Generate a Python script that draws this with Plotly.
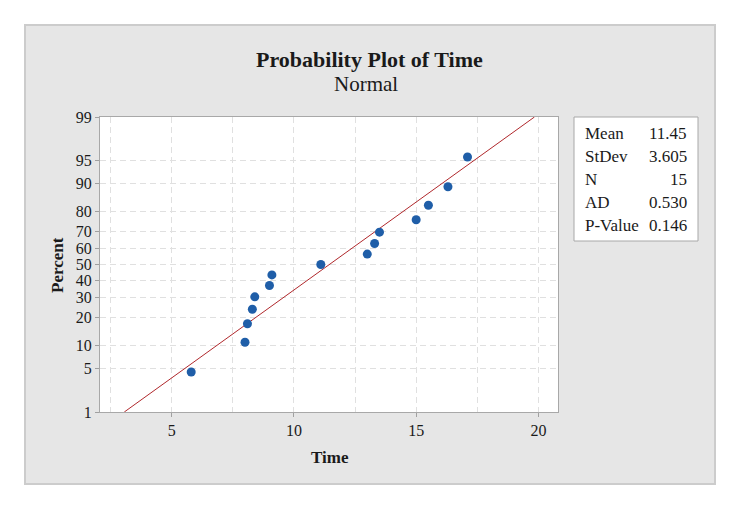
import plotly.graph_objects as go
from statistics import NormalDist

# 数据：时间与对应的百分比（中位秩）
time_values = [5.8, 8.0, 8.1, 8.3, 8.4, 9.0, 9.1, 11.1, 13.0, 13.3, 13.5, 15.0, 15.5, 16.3, 17.1]
percent_values = [4.5, 11.0, 17.5, 24.0, 30.5, 37.0, 43.5, 50.0, 56.5, 63.0, 69.5, 76.0, 82.5, 89.0, 95.5]

# 右侧统计表
stat_labels = ["Mean", "StDev", "N", "AD", "P-Value"]
stat_texts = ["11.45", "3.605", "15", "0.530", "0.146"]
fit_mean = 11.45
fit_stdev = 3.605

# y 轴刻度（百分比）
percent_ticks = [1, 5, 10, 20, 30, 40, 50, 60, 70, 80, 90, 95, 99]

nd = NormalDist()
def z(p):
    return nd.inv_cdf(p / 100.0)

W, H = 741, 511
L, R, T, B = 100, 558, 117, 412  # 绘图区像素边界

def px(x):
    return (x - L) / (R - L)

def py(y):
    return (B - y) / (B - T)

FONT = "Liberation Serif"
TXT = "#1a1a1a"

fig = go.Figure()

# 拟合直线（由均值与标准差得到）
line_p = [1, 99]
fig.add_trace(go.Scatter(
    x=[fit_mean + z(p) * fit_stdev for p in line_p],
    y=[z(p) for p in line_p],
    mode="lines", line=dict(color="#b0282c", width=1),
    hoverinfo="skip", showlegend=False))

# 数据点
fig.add_trace(go.Scatter(
    x=time_values, y=[z(p) for p in percent_values],
    mode="markers", marker=dict(color="#1f5ea8", size=9),
    showlegend=False))

grid = dict(gridcolor="#e0e0e0", griddash="6px,4px", gridwidth=1)

fig.update_xaxes(
    range=[2.07, 20.8], tick0=0, dtick=5,
    showgrid=True, **grid,
    minor=dict(dtick=2.5, showgrid=True, **grid),
    ticks="outside", ticklen=4, tickcolor="#a0a0a0",
    showline=True, mirror=True, linecolor="#a8a8a8", linewidth=1,
    zeroline=False,
    tickfont=dict(family=FONT, size=16, color=TXT))

fig.update_yaxes(
    range=[z(1), z(99)],
    tickvals=[z(p) for p in percent_ticks],
    ticktext=[str(p) for p in percent_ticks],
    showgrid=True, **grid,
    ticks="outside", ticklen=4, tickcolor="#a0a0a0",
    showline=True, mirror=True, linecolor="#a8a8a8", linewidth=1,
    zeroline=False,
    tickfont=dict(family=FONT, size=16, color=TXT))

shapes = [
    # 灰色外框
    dict(type="rect", xref="paper", yref="paper", layer="below",
         x0=px(25), x1=px(715), y0=py(484), y1=py(25),
         fillcolor="#e6e6e6", line=dict(color="#cccccc", width=2)),
    # 绘图区白底
    dict(type="rect", xref="paper", yref="paper", layer="below",
         x0=0, x1=1, y0=0, y1=1, fillcolor="white", line=dict(width=0)),
    # 统计表方框
    dict(type="rect", xref="paper", yref="paper", layer="above",
         x0=px(574), x1=px(698), y0=py(241), y1=py(117),
         fillcolor="white", line=dict(color="#a8a8a8", width=1)),
]

annotations = [
    dict(text="<b>Probability Plot of Time</b>", x=px(369), y=py(59),
         font=dict(family=FONT, size=22, color=TXT)),
    dict(text="Normal", x=px(366), y=py(84),
         font=dict(family=FONT, size=21, color=TXT)),
    dict(text="<b>Time</b>", x=px(329.5), y=py(457),
         font=dict(family=FONT, size=17, color=TXT)),
    dict(text="<b>Percent</b>", x=px(57), y=py(265), textangle=-90,
         font=dict(family=FONT, size=17, color=TXT)),
]
row_y = [133, 156, 179.5, 202.5, 225.5]
for lab, val, ry in zip(stat_labels, stat_texts, row_y):
    annotations.append(dict(text=lab, x=px(583), y=py(ry), xanchor="left",
                            font=dict(family=FONT, size=17, color=TXT)))
    annotations.append(dict(text=val, x=px(689), y=py(ry), xanchor="right",
                            font=dict(family=FONT, size=17, color=TXT)))
for a in annotations:
    a.update(xref="paper", yref="paper", showarrow=False)
    a.setdefault("xanchor", "center")
    a.setdefault("yanchor", "middle")

fig.update_layout(
    width=W, height=H, autosize=False,
    margin=dict(l=L, r=W - R, t=T, b=H - B, pad=0),
    paper_bgcolor="white", plot_bgcolor="white",
    shapes=shapes, annotations=annotations,
    showlegend=False)

# 去掉页面默认边距，使图表贴齐窗口左上角；隐藏工具条
fig.write_html("out.html", config={"displayModeBar": False},
               post_script="document.body.style.margin='0px';")
